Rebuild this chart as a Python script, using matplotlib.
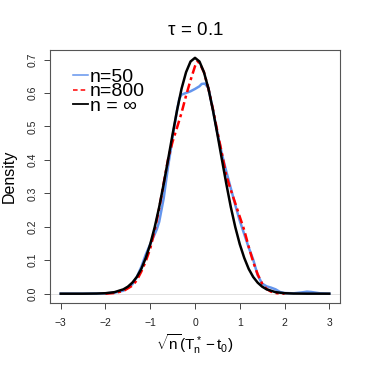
import matplotlib
matplotlib.use("Agg")
import matplotlib.pyplot as plt
from matplotlib.lines import Line2D

plt.rcParams['font.family'] = ['Liberation Sans', 'DejaVu Sans']
plt.rcParams['mathtext.fontset'] = 'custom'
plt.rcParams['mathtext.rm'] = 'Liberation Sans'
plt.rcParams['mathtext.it'] = 'Liberation Sans'
plt.rcParams['mathtext.sf'] = 'Liberation Sans'

# density curves
x_inf = [-3.0, -2.5, -2.2, -2.0, -1.8, -1.6, -1.5, -1.4, -1.3, -1.2, -1.1, -1.0,
         -0.9, -0.8, -0.7, -0.6, -0.5, -0.4, -0.3, -0.2, -0.1, 0.0,
         0.1, 0.2, 0.3, 0.4, 0.5, 0.6, 0.7, 0.8, 0.9, 1.0,
         1.1, 1.2, 1.3, 1.4, 1.5, 1.6, 1.8, 2.0, 2.2, 2.5, 3.0]
y_inf = [0.000, 0.000, 0.0004, 0.0014, 0.0045, 0.013, 0.021, 0.033, 0.050, 0.074, 0.107, 0.148,
         0.199, 0.259, 0.328, 0.402, 0.477, 0.549, 0.613, 0.662, 0.694, 0.705,
         0.694, 0.662, 0.613, 0.549, 0.477, 0.402, 0.328, 0.259, 0.199, 0.148,
         0.107, 0.074, 0.050, 0.033, 0.021, 0.013, 0.0045, 0.0014, 0.0004, 0.000, 0.000]

x_800 = [-2.0, -1.8, -1.6, -1.4, -1.3, -1.2, -1.1, -1.0, -0.9, -0.8, -0.7, -0.6,
         -0.5, -0.4, -0.3, -0.2, -0.1, 0.0, 0.05, 0.1, 0.2, 0.3, 0.4, 0.5, 0.6,
         0.7, 0.8, 0.9, 1.0, 1.1, 1.2, 1.3, 1.4, 1.5, 1.6, 1.7, 1.8, 1.9, 2.0]
y_800 = [0.000, 0.002, 0.008, 0.024, 0.040, 0.066, 0.097, 0.135, 0.190, 0.255, 0.330, 0.403,
         0.455, 0.497, 0.541, 0.592, 0.638, 0.680, 0.694, 0.690, 0.662, 0.613, 0.552, 0.485, 0.420,
         0.352, 0.310, 0.270, 0.230, 0.190, 0.140, 0.095, 0.058, 0.030, 0.014, 0.006, 0.002, 0.0005, 0.000]

x_50 = [-3.0, -2.5, -2.0, -1.8, -1.6, -1.4, -1.3, -1.2, -1.1, -1.0, -0.9, -0.855,
        -0.8, -0.7, -0.6, -0.54, -0.5, -0.4, -0.35, -0.3, -0.2, -0.1, 0.0, 0.1, 0.15,
        0.22, 0.3, 0.33, 0.4, 0.5, 0.6, 0.7, 0.8, 0.9, 1.0, 1.1, 1.2, 1.3,
        1.4, 1.5, 1.6, 1.7, 1.8, 1.9, 2.0, 2.2, 2.4, 2.5, 2.6, 2.8, 3.0]
y_50 = [0.000, 0.000, 0.001, 0.003, 0.009, 0.028, 0.050, 0.080, 0.117, 0.148, 0.178, 0.192,
        0.215, 0.285, 0.382, 0.432, 0.470, 0.549, 0.583, 0.595, 0.600, 0.605, 0.612, 0.620, 0.627,
        0.628, 0.615, 0.595, 0.550, 0.480, 0.418, 0.365, 0.315, 0.265, 0.218, 0.178, 0.138, 0.102,
        0.055, 0.030, 0.022, 0.018, 0.013, 0.005, 0.002, 0.001, 0.004, 0.006, 0.005, 0.001, 0.000]

labels = ['n=50', 'n=800', 'n = \u221e']
colors = ['cornflowerblue', 'red', 'black']
x_ticks = [-3, -2, -1, 0, 1, 2, 3]
y_ticks = [0.0, 0.1, 0.2, 0.3, 0.4, 0.5, 0.6, 0.7]

fig = plt.figure(figsize=(3.66, 3.66), dpi=100)
ax = fig.add_axes([0.1366, 0.172, 0.7924, 0.691])

ax.axhline(0, color='#dddddd', lw=0.6, zorder=1)
ax.plot(x_50, y_50, color=colors[0], lw=1.8, zorder=2)
ax.plot(x_800, y_800, color=colors[1], lw=1.8, dashes=(3.5, 1.5, 1.2, 1.5), zorder=3)
ax.plot(x_inf, y_inf, color=colors[2], lw=1.8, zorder=4)

ax.set_xlim(-3.24, 3.24)
ax.set_ylim(-0.028, 0.728)
ax.set_xticks(x_ticks)
ax.set_yticks(y_ticks)
ax.set_yticklabels([f'{v:.1f}' for v in y_ticks])
ax.tick_params(axis='both', labelsize=7.5, length=4, width=0.7, color='#444444', labelcolor='#222222')
ax.tick_params(axis='x', pad=7)
ax.tick_params(axis='y', pad=5, labelrotation=90)
for lbl in ax.get_yticklabels():
    lbl.set_va('center')
for s in ax.spines.values():
    s.set_color('#555555')
    s.set_linewidth(0.8)

ax.set_title(r'$\tau\,=\,0.1$', fontsize=13.5, pad=11)
ax.set_xlabel(r'$\sqrt{n}(T_n^* - t_0)$', fontsize=11, labelpad=3)
ax.set_ylabel('Density', fontsize=11.5, labelpad=8)

handles = [Line2D([], [], color=colors[0], lw=1.1),
           Line2D([], [], color=colors[1], lw=1.1, dashes=(3, 2)),
           Line2D([], [], color=colors[2], lw=1.3)]
ax.legend(handles, labels, loc='upper left', frameon=False, fontsize=14, handlelength=0.78,
          handletextpad=0.08, labelspacing=-0.16, borderaxespad=0, borderpad=0,
          bbox_to_anchor=(0.079, 0.928))

fig.savefig('out.png', dpi=100)
